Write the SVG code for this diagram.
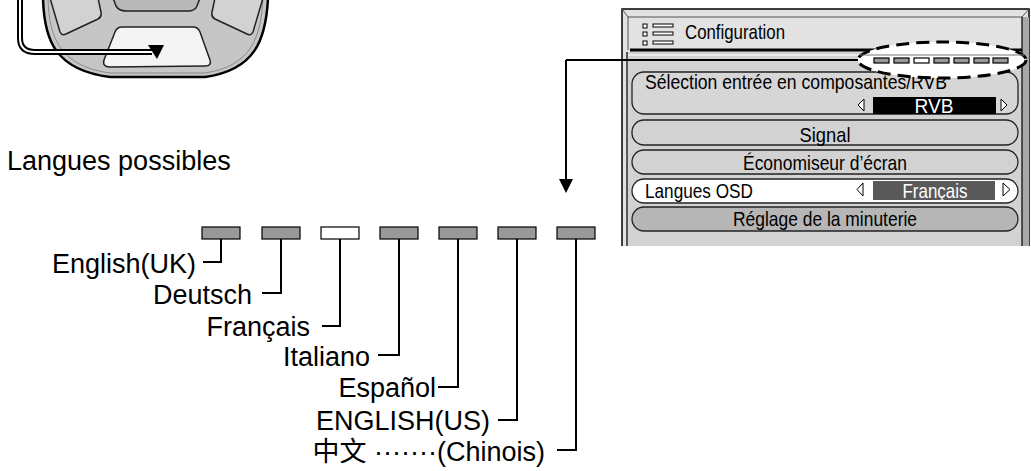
<svg xmlns="http://www.w3.org/2000/svg" width="1031" height="471" viewBox="0 0 1031 471">
<style>
.lbl{font-family:"Liberation Sans",Arial,sans-serif;font-size:27px;fill:#000}
.osd{font-family:"Liberation Sans",Arial,sans-serif;font-size:21px;fill:#000}
.wire{fill:none;stroke:#000;stroke-width:2}
.sq{stroke:#000;stroke-width:1.2}
.row{stroke:#222;stroke-width:1.3}
.tri{fill:#fff;stroke:#000;stroke-width:1}
</style>
<rect width="1031" height="471" fill="#fff"/>
<g id="remote">
<path d="M43 -2 C44 40 55 70 110 77 L205 77 C255 70 266 40 268 -2 Z" fill="#c6c6c6" stroke="#000" stroke-width="2.5"/>
<path d="M48 -2 C49 38 60 66 110 73 L205 73 C251 66 261 38 263 -2" fill="none" stroke="#8a8a8a" stroke-width="1"/>
<path d="M50 -2 L60 32 Q62 36 66 34 L98 19 Q102 17 101 12 L98 -2 Z" fill="#d2d2d2" stroke="#222" stroke-width="1.5"/>
<path d="M263 -2 L253 32 Q251 36 247 34 L215 19 Q211 17 212 12 L215 -2 Z" fill="#d2d2d2" stroke="#222" stroke-width="1.5"/>
<path d="M113 -2 L116 6 Q119 11 126 11 L188 11 Q195 11 197 6 L200 -2 Z" fill="#b8b8b8" stroke="#222" stroke-width="1.5"/>
<path d="M122 27 L193 27 Q198 27 200 32 L210 60 Q212 66 205 66 L110 67 Q102 67 104 60 L115 32 Q117 27 122 27 Z" fill="#f4f4f4" stroke="#222" stroke-width="1.5"/>
<path d="M20 -2 L20 38 Q20 52 35 52 L152 52" fill="none" stroke="#000" stroke-width="6"/>
<path d="M20 -2 L20 38 Q20 52 35 52 L152 52" fill="none" stroke="#fff" stroke-width="2"/>
<polygon points="148,45 164,45 157,59" fill="#000"/>
</g>
<g id="panel">
<path d="M622 246 L622 9 L1029 9 L1029 246" fill="#e2e2e2" stroke="#000" stroke-width="1.5"/>
<rect x="1022" y="17" width="7" height="229" fill="#a8a8a8"/>
<path d="M622 9 L628 17 L1022 17 L1029 9" fill="none" stroke="#555" stroke-width="1"/>
<line x1="628" y1="17" x2="628" y2="50" stroke="#555" stroke-width="1"/>
<rect x="627" y="52" width="395" height="194" fill="#d2d2d2"/>
<path d="M630 50 L1022 50" stroke="#000" stroke-width="3"/>
<line x1="627" y1="52" x2="627" y2="246" stroke="#000" stroke-width="1.2"/>
<line x1="1022" y1="17" x2="1022" y2="246" stroke="#000" stroke-width="1.2"/>
<line x1="628" y1="55" x2="1020" y2="55" stroke="#f4f4f4" stroke-width="1.5"/>
<g fill="#fff" stroke="#000" stroke-width="1">
<rect x="643" y="24" width="4" height="4"/><rect x="643" y="32" width="4" height="4"/><rect x="643" y="41" width="4" height="4"/>
<rect x="653" y="24" width="20" height="3"/><rect x="653" y="32" width="20" height="3"/><rect x="653" y="41" width="20" height="3"/>
</g>
<text class="osd" x="685" y="39" textLength="100" lengthAdjust="spacingAndGlyphs">Configuration</text>
<rect class="row" x="632" y="72" width="386" height="42" rx="12" fill="#d6d6d6"/>
<text class="osd" x="645" y="89" textLength="302" lengthAdjust="spacingAndGlyphs">Sélection entrée en composantes/RVB</text>
<polygon class="tri" points="864,99 864,111 858,105"/>
<rect x="873" y="97" width="123" height="17" fill="#000"/>
<text class="osd" x="934" y="113" text-anchor="middle" style="fill:#fff" textLength="39" lengthAdjust="spacingAndGlyphs">RVB</text>
<polygon class="tri" points="1001,99 1001,111 1007,105"/>
<rect class="row" x="632" y="120" width="386" height="25" rx="12" fill="#d2d2d2"/>
<text class="osd" x="825" y="142" text-anchor="middle" textLength="51" lengthAdjust="spacingAndGlyphs">Signal</text>
<rect class="row" x="632" y="150" width="386" height="24" rx="12" fill="#d2d2d2"/>
<text class="osd" x="825" y="170" text-anchor="middle" textLength="164" lengthAdjust="spacingAndGlyphs">Économiseur d’écran</text>
<rect class="row" x="632" y="179" width="386" height="24" rx="12" fill="#fff"/>
<text class="osd" x="645" y="198" textLength="108" lengthAdjust="spacingAndGlyphs">Langues OSD</text>
<polygon class="tri" points="863,183 863,196 857,189.5"/>
<rect x="873" y="181" width="122" height="19" fill="#595959"/>
<text class="osd" x="935" y="198" text-anchor="middle" style="fill:#fff" textLength="65" lengthAdjust="spacingAndGlyphs">Français</text>
<polygon class="tri" points="1003,183 1003,196 1010,189.5"/>
<rect class="row" x="632" y="207" width="386" height="24" rx="12" fill="#b6b6b6"/>
<text class="osd" x="825" y="226" text-anchor="middle" textLength="184" lengthAdjust="spacingAndGlyphs">Réglage de la minuterie</text>
</g>
<g id="zoom-ellipse">
<ellipse cx="942" cy="60" rx="84" ry="18" fill="#fff" stroke="#000" stroke-width="3" stroke-dasharray="13 7"/>
<line x1="860" y1="55" x2="1024" y2="55" stroke="#777" stroke-width="1"/>
<g class="sq">
<rect x="874" y="58" width="15" height="5" fill="#999"/>
<rect x="894" y="58" width="15" height="5" fill="#999"/>
<rect x="914" y="58" width="15" height="5" fill="#fff"/>
<rect x="934" y="58" width="15" height="5" fill="#999"/>
<rect x="954" y="58" width="15" height="5" fill="#999"/>
<rect x="974" y="58" width="15" height="5" fill="#999"/>
<rect x="993" y="58" width="15" height="5" fill="#999"/>
</g>
</g>
<g id="title">
<text class="lbl" x="7" y="170">Langues possibles</text>
</g>
<g id="lang-bar" class="sq">
<rect x="202" y="227" width="38" height="12" fill="#999"/>
<rect x="262" y="227" width="38" height="12" fill="#999"/>
<rect x="321" y="227" width="38" height="12" fill="#fff"/>
<rect x="380" y="227" width="38" height="12" fill="#999"/>
<rect x="439" y="227" width="38" height="12" fill="#999"/>
<rect x="498" y="227" width="38" height="12" fill="#999"/>
<rect x="557" y="227" width="38" height="12" fill="#999"/>
</g>
<g id="labels">
<text class="lbl" x="196" y="273" text-anchor="end">English(UK)</text>
<text class="lbl" x="252" y="304" text-anchor="end">Deutsch</text>
<text class="lbl" x="310" y="336" text-anchor="end">Français</text>
<text class="lbl" x="370" y="366" text-anchor="end">Italiano</text>
<text class="lbl" x="436" y="397" text-anchor="end">Español</text>
<text class="lbl" x="490" y="430" text-anchor="end">ENGLISH(US)</text>
<text class="lbl" x="545" y="461" text-anchor="end" style="font-family:'Liberation Sans','Noto Sans CJK SC',sans-serif">中文 ·······(Chinois)</text>
</g>
<g id="connectors">
<path class="wire" d="M566 60 L858 60"/>
<path class="wire" d="M566 60 L566 182"/>
<polygon points="559,179 573,179 566,193" fill="#000"/>
<path class="wire" d="M221 239 L221 262 L203 262"/>
<path class="wire" d="M281 239 L281 293 L262 293"/>
<path class="wire" d="M340 239 L340 326 L322 326"/>
<path class="wire" d="M399 239 L399 355 L378 355"/>
<path class="wire" d="M458 239 L458 387 L438 387"/>
<path class="wire" d="M517 239 L517 420 L498 420"/>
<path class="wire" d="M576 239 L576 450 L557 450"/>
</g>
</svg>
